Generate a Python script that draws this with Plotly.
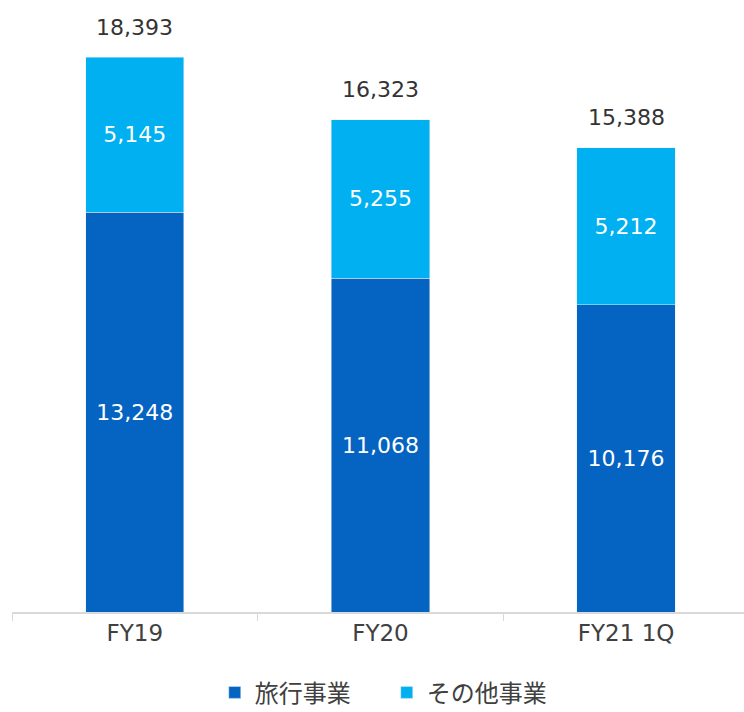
import plotly.graph_objects as go

categories = ["FY19", "FY20", "FY21 1Q"]
tick_labels = ["FY19", "FY20", "FY21 1Q"]
travel = [13248, 11068, 10176]
other = [5145, 5255, 5212]
totals = [18393, 16323, 15388]
series_names = ["旅行事業", "その他事業"]

FONT = "DejaVu Sans, Noto Sans CJK JP, sans-serif"
LFONT = "Noto Sans CJK JP, sans-serif"
DARK = "#0563C1"
LIGHT = "#00B0F0"
TXT = "#404040"

fig = go.Figure()
fig.add_trace(go.Bar(
    x=categories, y=travel, name=series_names[0], marker_color=DARK,
    width=0.4, text=[f"{v:,}" for v in travel], textposition="inside",
    insidetextanchor="middle", textangle=0, constraintext="none",
    textfont=dict(color="white", size=22, family=FONT),
))
fig.add_trace(go.Bar(
    x=categories, y=other, name=series_names[1], marker_color=LIGHT,
    width=0.4, text=[f"{v:,}" for v in other], textposition="inside",
    insidetextanchor="middle", textangle=0, constraintext="none",
    textfont=dict(color="white", size=22, family=FONT),
))
for c, t in zip(categories, totals):
    fig.add_annotation(x=c, y=t, text=f"{t:,}", showarrow=False, yanchor="middle",
                       yshift=30, font=dict(color="#333333", size=22, family=FONT))

fig.update_layout(
    barmode="stack",
    width=744, height=712,
    margin=dict(l=12, r=0, t=0, b=100, autoexpand=False),
    paper_bgcolor="white", plot_bgcolor="white",
    font=dict(family=FONT, color=TXT, size=22),
    showlegend=True,
    legend=dict(orientation="h", x=0.277, xanchor="left", y=-0.132, yanchor="middle",
                font=dict(size=24, color=TXT, family=LFONT), itemwidth=30,
                entrywidth=127, traceorder="normal", borderwidth=0),
    xaxis=dict(
        range=[-0.5, 2.48], tickmode="array", tickvals=categories, ticktext=tick_labels,
        tickson="boundaries", ticks="outside", ticklen=7, tickcolor="#d9d9d9",
        showline=True, linecolor="#d9d9d9", linewidth=1.5, showgrid=False,
        tickfont=dict(size=23, color=TXT, family=FONT),
    ),
    yaxis=dict(range=[0, 20285], visible=False, showgrid=False),
)

fig.write_html("out.html")
